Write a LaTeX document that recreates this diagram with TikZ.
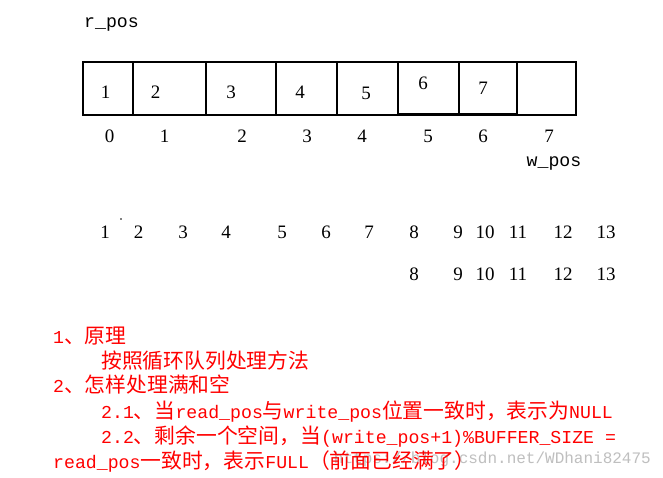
\documentclass[tikz,border=0pt]{standalone}
\usepackage{fontspec}
\setmainfont{Liberation Serif}
\newfontfamily\cjkfam{Noto Sans CJK SC}
\newfontfamily\ascfam{Liberation Mono}
\newcommand\zhtxt[1]{{\cjkfam\fontsize{20.8}{24}\selectfont #1}}
\newcommand\astxt[1]{{\ascfam\fontsize{18.2}{22}\selectfont #1}}
\tikzset{
  cellbox/.style={draw=black, line width=1.2pt},
  num/.style={inner sep=0pt, font=\fontsize{19}{22}\selectfont},
  lbl/.style={inner sep=0pt, anchor=base, font=\ascfam\fontsize{18.2}{22}\selectfont},
  redline/.style={inner sep=0pt, anchor=base west, text=red},
  wmark/.style={inner sep=0pt, anchor=base east, text=black!25, font=\ascfam\fontsize{16}{20}\selectfont}
}
\begin{document}
\begin{tikzpicture}[x=1pt,y=-1pt]
\useasboundingbox[fill=white] (0,0) rectangle (663,478);
% labels
\node[lbl] (rpos) at (111.5,27.5) {r\_pos};
\node[lbl] (wpos) at (554,166.7) {w\_pos};
% cells
\foreach \a/\b [count=\i] in {83/133,133/206,206/276,276/337,337/398,398/459,459/517,517/576}
  \draw[cellbox] (\a,62) rectangle (\b,115) coordinate (cell\i);
\draw[line width=2.2pt] (83,115) -- (337,115);
\draw[line width=2.2pt] (398,114.5) -- (517,114.5);
% cell contents
\foreach \t/\x/\y in {1/105.5/92,2/155.5/92,3/231/92,4/300/92,5/366/93,6/423/83,7/483/88}
  \node[num] (c\t) at (\x,\y) {\t};
% indices
\foreach \t/\x in {0/109.5,1/164.5,2/242,3/307,4/362,5/428,6/483,7/549}
  \node[num] (i\t) at (\x,136) {\t};
% row 3
\foreach \t/\x in {1/105,2/138.5,3/183,4/226,5/282,6/326,7/369,8/414,9/458,10/485,11/518,12/563,13/606}
  \node[num] (r\t) at (\x,232) {\t};
\fill (121,219) circle (0.8);
% row 4
\foreach \t/\x in {8/414,9/458,10/485,11/518,12/563,13/606}
  \node[num] (s\t) at (\x,274.5) {\t};
% watermark
\node[wmark] (wm) at (651,463) {https://blog.csdn.net/WDhani82475};
% red text
\node[redline] (t1) at (53,343) {\astxt{1}\zhtxt{、原理}};
\node[redline] (t2) at (101,368) {\zhtxt{按照循环队列处理方法}};
\node[redline] (t3) at (53,392) {\astxt{2}\zhtxt{、怎样处理满和空}};
\node[redline] (t4) at (101,418) {\astxt{2.1}\zhtxt{、当}\astxt{read\_pos}\zhtxt{与}\astxt{write\_pos}\zhtxt{位置一致时，表示为}\astxt{NULL}};
\node[redline] (t5) at (101,443) {\astxt{2.2}\zhtxt{、剩余一个空间，当}\astxt{(write\_pos+1)\%BUFFER\_SIZE =}};
\node[redline] (t6) at (53,468) {\astxt{read\_pos}\zhtxt{一致时，表示}\astxt{FULL}\zhtxt{（前面已经满了）}};
\end{tikzpicture}
\end{document}
